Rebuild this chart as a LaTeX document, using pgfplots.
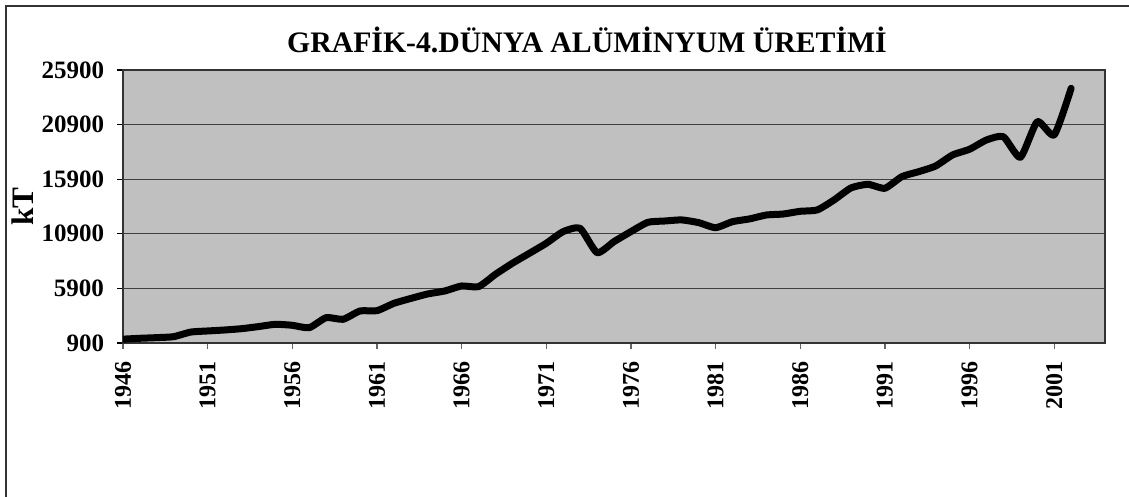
\documentclass[border=0pt]{standalone}
\usepackage{fontspec}
\setmainfont{Liberation Serif}
\usepackage{pgfplots}
\pgfplotsset{compat=1.18}
\definecolor{plotgray}{HTML}{C0C0C0}

\begin{document}
\begin{tikzpicture}[x=0.4pt,y=0.4pt]
\useasboundingbox (0,0) rectangle (1129,497);
\draw[line width=0.6pt, black!80] (6,-20) -- (6,491) -- (1150,491);
\node[font=\bfseries\fontsize{11.9}{14}\selectfont] at (587,457) {GRAFİK-4.DÜNYA ALÜMİNYUM ÜRETİMİ};
\begin{axis}[
    at={(49.2pt,61.6pt)}, anchor=south west,
    scale only axis,
    width=392.8pt, height=109.2pt,
    xmin=1946, xmax=2004,
    ymin=900, ymax=25900,
    xtick={1946,1951,...,2001},
    ytick={900,5900,...,25900},
    xtick pos=bottom, ytick pos=left,
    scaled ticks=false,
    /pgf/number format/1000 sep={},
    /pgf/number format/assume math mode=true,
    axis background/.style={fill=plotgray},
    axis line style={black!80, line width=0.5pt},
    ymajorgrids,
    major grid style={black!75, line width=0.5pt},
    tick align=outside,
    major tick length=2.4pt,
    xtick style={black!60, line width=0.5pt},
    ytick style={black, line width=0.5pt},
    yticklabel style={font=\bfseries\fontsize{10}{12}\selectfont, inner sep=5pt},
    xticklabel style={font=\bfseries\fontsize{9.6}{12}\selectfont, yshift=-4pt, rotate=90, anchor=east, inner sep=1pt},
    ylabel={kT},
    ylabel style={font=\bfseries\fontsize{12.5}{14}\selectfont, yshift=-5.2pt},
]
\addplot[black, line width=2.8pt, smooth, tension=0.35, line join=round, line cap=round] coordinates {
(1946,1250) (1947,1330) (1948,1390) (1949,1480) (1950,1900) (1951,2000)
(1952,2090) (1953,2210) (1954,2400) (1955,2610) (1956,2520) (1957,2300)
(1958,3220) (1959,3070) (1960,3830) (1961,3860) (1962,4530) (1963,4980)
(1964,5390) (1965,5660) (1966,6120) (1967,6060) (1968,7190) (1969,8200)
(1970,9110) (1971,10030) (1972,11100) (1973,11400) (1974,9170) (1975,10180)
(1976,11100) (1977,11950) (1978,12070) (1979,12170) (1980,11920) (1981,11460)
(1982,12010) (1983,12260) (1984,12620) (1985,12710) (1986,12960) (1987,13080)
(1988,14000) (1989,15100) (1990,15430) (1991,15070) (1992,16130) (1993,16590)
(1994,17110) (1995,18120) (1996,18640) (1997,19490) (1998,19790) (1999,17900)
(2000,21170) (2001,19950) (2002,24220)
};
\end{axis}
\end{tikzpicture}
\end{document}
